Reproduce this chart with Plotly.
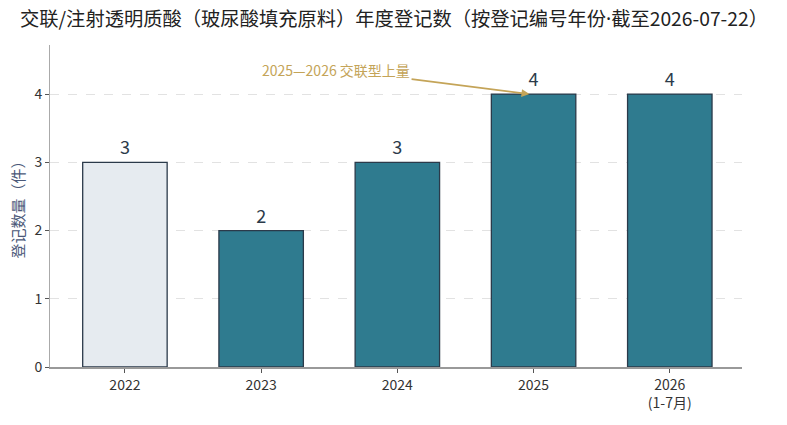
import plotly.graph_objects as go

# 按登记编号年份统计
years = ["2022", "2023", "2024", "2025", "2026<br>(1-7月)"]
counts = [3, 2, 3, 4, 4]
bar_colors = ["#e6ebf0", "#2f7b8f", "#2f7b8f", "#2f7b8f", "#2f7b8f"]
y_ticks = [0, 1, 2, 3, 4]

FONT = "Noto Sans CJK SC"

fig = go.Figure()

fig.add_trace(go.Bar(
    x=list(range(len(years))),
    y=counts,
    width=0.62,
    marker=dict(color=bar_colors, line=dict(color="#2b3a4a", width=1.3)),
    text=[str(c) for c in counts],
    textposition="outside",
    textfont=dict(family=FONT, size=18, color="#2b3a4a"),
    cliponaxis=False,
    showlegend=False,
))

# 交联型上量 标注
fig.add_annotation(
    x=2.97, y=4, ax=1.55, ay=4.36,
    xref="x", yref="y", axref="x", ayref="y",
    text="2025—2026 交联型上量",
    font=dict(family=FONT, size=14, color="#c4a458"),
    showarrow=True, arrowhead=2, arrowsize=1, arrowwidth=1.6,
    arrowcolor="#c4a458",
)

# narrow middle dot (the CJK font draws it full width)
dot = '<span style="font-family:Noto Sans">·</span>'
title_text = ("交联/注射透明质酸（玻尿酸填充原料）年度登记数（按登记编号年份"
              + dot + "截至2026-07-22）")

fig.update_layout(
    width=787, height=425,
    margin=dict(l=50, r=45, t=45, b=58),
    paper_bgcolor="white", plot_bgcolor="white",
    font=dict(family=FONT, color="#333"),
    title=dict(
        text=title_text,
        x=0.0254, xanchor="left", y=0.954, yanchor="middle",
        font=dict(family=FONT, size=19.3, color="#222"),
    ),
    bargap=0.38,
)

fig.update_xaxes(
    range=[-0.55, 4.53],
    tickmode="array", tickvals=list(range(len(years))), ticktext=years,
    tickfont=dict(size=14, color="#333"),
    ticks="outside", ticklen=4, tickcolor="#555",
    showline=True, linecolor="#999", linewidth=1.5,
    showgrid=False, zeroline=False, automargin=False,
)

fig.update_yaxes(
    range=[0, 4.72],
    tickmode="array", tickvals=y_ticks,
    tickfont=dict(size=14, color="#333"),
    ticks="outside", ticklen=4, tickcolor="#555",
    showline=True, linecolor="#aaa", linewidth=1,
    showgrid=True, gridcolor="#e2e2e2", griddash="dash", gridwidth=1,
    zeroline=False, automargin=False,
    title=dict(text="登记数量（件）", font=dict(size=15, color="#4a5878"), standoff=6),
)

# drop the page's default 8px body margin so the figure sits at the window corner
fig.write_html(
    "out.html",
    config={"displayModeBar": False},
    post_script="document.body.style.margin='0';",
)
